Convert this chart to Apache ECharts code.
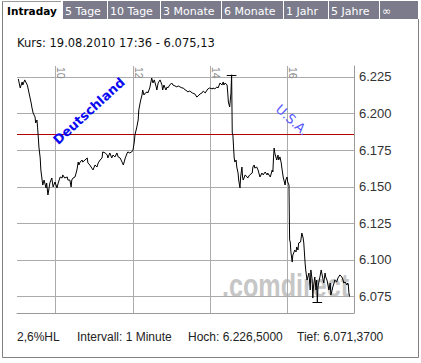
<!DOCTYPE html>
<html><head><meta charset="utf-8">
<script src="https://cdn.jsdelivr.net/npm/echarts@6/dist/echarts.min.js"></script>
<style>html,body{margin:0;padding:0;background:#fff}#c{width:421px;height:363px}</style>
</head><body><div id="c"></div>
<script>
// ---- data ----
const times = ['09:02','09:05','09:08','09:09','09:12','09:16','09:17','09:20','09:22','09:23','09:25','09:28','09:29','09:31','09:32','09:33','09:34','09:36','09:37','09:39','09:40','09:42','09:45','09:46','09:48','09:51','09:54','09:56','09:59','10:02','10:04','10:07','10:10','10:11','10:14','10:18','10:19','10:22','10:24','10:25','10:27','10:30','10:33','10:35','10:36','10:38','10:41','10:42','10:49','10:50','10:53','10:56','10:58','11:01','11:04','11:06','11:09','11:12','11:13','11:17','11:20','11:21','11:24','11:27','11:29','11:32','11:35','11:37','11:40','11:43','11:45','11:48','11:51','11:52','11:55','11:58','12:00','12:02','12:03','12:06','12:08','12:09','12:11','12:12','12:14','12:15','12:17','12:19','12:22','12:23','12:26','12:29','12:31','12:33','12:36','12:37','12:39','12:42','12:45','12:46','12:48','12:51','12:53','12:54','12:57','13:00','13:02','13:05','13:08','13:10','13:13','13:16','13:18','13:21','13:24','13:25','13:28','13:32','13:33','13:36','13:39','13:41','13:44','13:47','13:49','13:52','13:55','13:56','13:59','14:03','14:04','14:07','14:10','14:12','14:15','14:18','14:20','14:21','14:23','14:26','14:27','14:28','14:30','14:31','14:32','14:33','14:34','14:35','14:36','14:37','14:38','14:40','14:41','14:43','14:44','14:46','14:47','14:49','14:50','14:51','14:54','14:57','14:58','15:01','15:05','15:06','15:08','15:09','15:12','15:14','15:17','15:20','15:22','15:25','15:28','15:29','15:33','15:36','15:37','15:38','15:39','15:40','15:43','15:45','15:46','15:48','15:50','15:51','15:53','15:56','15:57','15:59','16:00','16:02','16:03','16:04','16:05','16:07','16:08','16:10','16:11','16:13','16:14','16:16','16:17','16:20','16:22','16:24','16:25','16:26','16:27','16:28','16:30','16:33','16:35','16:36','16:38','16:39','16:40','16:42','16:43','16:44','16:45','16:46','16:47','16:49','16:50','16:52','16:55','16:56','16:58','16:59','17:01','17:04','17:06','17:07','17:09','17:10','17:12','17:13','17:16','17:18','17:21','17:24','17:26','17:27','17:29','17:32','17:33','17:34','17:35','17:36'];
const prices = [6.2237,6.2175,6.2216,6.2195,6.2230,6.2195,6.2175,6.2113,6.2072,6.2045,6.2004,6.1977,6.1936,6.1956,6.1902,6.1840,6.1772,6.1697,6.1615,6.1546,6.1512,6.1546,6.1492,6.1526,6.1444,6.1526,6.1560,6.1499,6.1533,6.1492,6.1526,6.1567,6.1560,6.1581,6.1560,6.1567,6.1546,6.1546,6.1499,6.1546,6.1560,6.1567,6.1615,6.1669,6.1649,6.1669,6.1683,6.1669,6.1697,6.1663,6.1649,6.1628,6.1615,6.1649,6.1635,6.1663,6.1683,6.1697,6.1738,6.1731,6.1717,6.1697,6.1731,6.1697,6.1717,6.1704,6.1731,6.1704,6.1697,6.1669,6.1649,6.1697,6.1731,6.1738,6.1731,6.1738,6.1751,6.1806,6.1854,6.1909,6.1956,6.2025,6.2072,6.2093,6.2127,6.2161,6.2127,6.2140,6.2148,6.2141,6.2175,6.2243,6.2209,6.2230,6.2182,6.2161,6.2209,6.2230,6.2195,6.2161,6.2195,6.2161,6.2182,6.2175,6.2195,6.2209,6.2195,6.2189,6.2182,6.2189,6.2182,6.2175,6.2175,6.2161,6.2154,6.2148,6.2154,6.2141,6.2141,6.2134,6.2113,6.2120,6.2134,6.2141,6.2154,6.2141,6.2161,6.2168,6.2175,6.2168,6.2175,6.2168,6.2182,6.2175,6.2209,6.2195,6.2216,6.2195,6.2209,6.2195,6.2141,6.2079,6.2045,6.2093,6.2141,6.2265,6.1867,6.1854,6.1772,6.1697,6.1669,6.1683,6.1635,6.1594,6.1546,6.1492,6.1567,6.1635,6.1567,6.1546,6.1581,6.1567,6.1560,6.1581,6.1594,6.1635,6.1649,6.1628,6.1635,6.1615,6.1567,6.1594,6.1581,6.1601,6.1581,6.1594,6.1567,6.1615,6.1601,6.1697,6.1765,6.1731,6.1683,6.1717,6.1683,6.1704,6.1663,6.1628,6.1567,6.1512,6.1546,6.1567,6.1533,6.1512,6.1137,6.1123,6.1055,6.0986,6.1034,6.1055,6.1068,6.1055,6.1089,6.1068,6.1116,6.1123,6.1184,6.1150,6.1116,6.1048,6.0980,6.0932,6.0863,6.0911,6.0795,6.0932,6.0863,6.0740,6.0816,6.0884,6.0843,6.0795,6.0863,6.0714,6.0816,6.0863,6.0884,6.0932,6.0863,6.0843,6.0911,6.0884,6.0863,6.0795,6.0843,6.0761,6.0795,6.0816,6.0843,6.0863,6.0850,6.0877,6.0898,6.0884,6.0863,6.0843,6.0850,6.0829,6.0843,6.0836,6.0775,6.0751];
const yTicks = [6.075, 6.100, 6.125, 6.150, 6.175, 6.200, 6.225];
const xTicks = [10, 12, 14, 16];
const xTickLabels = ['10', '12', '14', '16'];
const prevClose = 6.1857;
const highPoint = ['14:33', 6.2265];
const lowPoint = ['16:46', 6.0714];
const tabs = ['Intraday', '5 Tage', '10 Tage', '3 Monate', '6 Monate', '1 Jahr', '5 Jahre', '\u221E'];
const headerText = 'Kurs: 19.08.2010 17:36 - 6.075,13';
const footerTexts = ['2,6%HL', 'Intervall: 1 Minute', 'Hoch: 6.226,5000', 'Tief: 6.071,3700'];
const annotations = ['Deutschland', 'U.S.A.'];
const watermark = '.comdirect';

// ---- layout ----
const TAB_EDGES = [2, 62, 107, 160, 221, 283, 328, 379, 418];
const FOOTER_X = [17, 77, 188, 297];
const X_MIN = 9, X_MAX = 17.715, Y_MIN = 6.0638, Y_MAX = 6.2325;
const MARK_HALF = 0.125;

const toHours = t => { const p = t.split(':').map(Number); return p[0] + p[1] / 60; };
const lineData = times.map((t, i) => [toHours(t), prices[i]]);

const graphics = [];
// frame
graphics.push({type:'polyline', z:1, shape:{points:[[2.5,2],[2.5,357.5],[418.5,357.5],[418.5,19]]}, style:{stroke:'#7f7f7f', lineWidth:1, fill:null}});
graphics.push({type:'line', z:1, shape:{x1:2, y1:1.5, x2:61, y2:1.5}, style:{stroke:'#9a9a9a', lineWidth:1}});
// tabs
tabs.forEach((name, i) => {
  const x0 = TAB_EDGES[i], x1 = TAB_EDGES[i + 1];
  if (i > 0) {
    graphics.push({type:'rect', z:1, shape:{x:x0 + 1, y:1, width:x1 - x0 - 1, height:18}, style:{fill:'#7b7b8b'}});
  }
  graphics.push({type:'text', z:2, x: i === 0 ? x0 + 5 : x0 + 3, y:11, style:{
    text:name, fill: i === 0 ? '#000' : '#fff',
    font: i === 0 ? 'bold 10.5px "DejaVu Sans"' : '11px "DejaVu Sans"',
    textAlign:'left', textVerticalAlign:'middle'}});
});
graphics.push({type:'text', z:2, x:17, y:43, style:{text:headerText, fill:'#111', font:'11.5px "DejaVu Sans"', textAlign:'left', textVerticalAlign:'middle'}});
footerTexts.forEach((t, i) => {
  graphics.push({type:'text', z:2, x:FOOTER_X[i], y:337, style:{text:t, fill:'#222', font:'12px "Liberation Sans", Arial', textAlign:'left', textVerticalAlign:'middle'}});
});
// watermark
graphics.push({type:'text', z:0, x:222, y:302, scaleX:0.74, style:{text:watermark, fill:'#c6c6c6', font:'bold 34px "Liberation Sans", Arial', textAlign:'left', textVerticalAlign:'bottom'}});
// annotations
graphics.push({type:'text', z:10, x:89, y:111, rotation:0.74, style:{text:annotations[0], fill:'#0a0af0', font:'bold 13px "DejaVu Sans"', textAlign:'center', textVerticalAlign:'middle'}});
graphics.push({type:'text', z:10, x:292, y:120, rotation:-0.74, style:{text:annotations[1], fill:'#5a5aff', font:'13px "DejaVu Sans"', textAlign:'center', textVerticalAlign:'middle'}});

const chart = echarts.init(document.getElementById('c'), null, {renderer:'svg', width:421, height:363});
chart.setOption({
  animation:false,
  backgroundColor:'#fff',
  grid:{left:17, right:67, top:66, bottom:50, containLabel:false, outerBoundsMode:'none'},
  xAxis:[
    {type:'value', min:X_MIN, max:X_MAX, position:'bottom',
     axisLine:{show:true, onZero:false, lineStyle:{color:'#9a9a9a', width:1}},
     axisTick:{show:false}, axisLabel:{show:false}, splitLine:{show:false}},
    {type:'value', min:X_MIN, max:X_MAX, position:'top',
     axisLine:{show:false}, axisTick:{show:false, customValues:xTicks},
     axisLabel:{customValues:xTicks, inside:true, rotate:90, margin:1, color:'#888',
       fontSize:10.5, fontFamily:'"Liberation Sans", Arial', align:'left', verticalAlign:'bottom',
       formatter:(v) => xTickLabels[xTicks.indexOf(Math.round(v))]},
     splitLine:{show:true, lineStyle:{color:'#ababab', width:1}}}
  ],
  yAxis:{type:'value', position:'right', min:Y_MIN, max:Y_MAX,
    axisLine:{show:true, onZero:false, lineStyle:{color:'#9a9a9a', width:1}},
    axisTick:{show:false, customValues:yTicks},
    axisLabel:{customValues:yTicks, margin:5, color:'#333', fontSize:13, fontFamily:'"Liberation Sans", Arial',
      formatter:(v) => v.toFixed(3)},
    splitLine:{show:true, lineStyle:{color:'#ababab', width:1}}},
  graphic:graphics,
  series:[{
    type:'line', xAxisIndex:0, data:lineData, showSymbol:false, symbol:'none',
    lineStyle:{color:'#000', width:1}, z:5,
    markLine:{
      silent:true, symbol:'none', precision:4, label:{show:false},
      data:[
        {yAxis:prevClose, lineStyle:{color:'#b00000', width:1, type:'solid'}},
        [{coord:[toHours(highPoint[0]) - MARK_HALF, highPoint[1]], lineStyle:{color:'#000', width:1, type:'solid'}},
         {coord:[toHours(highPoint[0]) + MARK_HALF, highPoint[1]]}],
        [{coord:[toHours(lowPoint[0]) - MARK_HALF, lowPoint[1]], lineStyle:{color:'#000', width:1, type:'solid'}},
         {coord:[toHours(lowPoint[0]) + MARK_HALF, lowPoint[1]]}]
      ]
    }
  }]
});
</script></body></html>
